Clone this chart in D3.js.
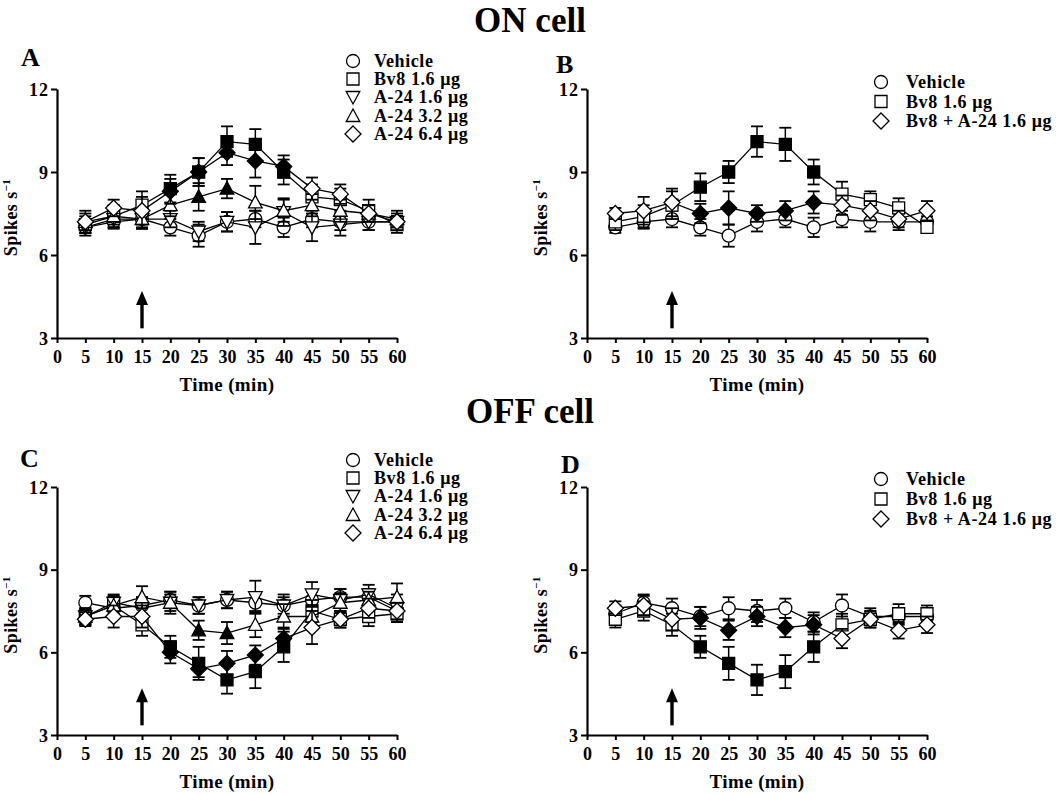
<!DOCTYPE html>
<html><head><meta charset="utf-8">
<script src="https://cdn.jsdelivr.net/npm/d3@7"></script>
<style>
body{margin:0;background:#fff}
svg{display:block}
text{font-family:"Liberation Serif","Times New Roman",serif;font-weight:bold;fill:#000}
</style>
</head><body><svg id="c" width="1063" height="794"></svg>
<script>
// ---------- shared axes / annotation data ----------
const times = [5,10,15,20,25,30,35,40,45,50,55,60];
const xTickValues = [0,5,10,15,20,25,30,35,40,45,50,55,60];
const yTickValues = [3,6,9,12];
const yDomain = [3,12];
const xDomain = [0,60];
const injectionTime = 15;
const arrowRange = [3.35, 4.7];
const titles = ["ON cell","OFF cell"];
const letters = ["A","B","C","D"];
const xLabel = "Time (min)";
const yLabel = "Spikes s";
const yLabelSup = "\u22121";
const legendFour = ["Vehicle","Bv8 1.6 \u03bcg","A-24 1.6 \u03bcg","A-24 3.2 \u03bcg","A-24 6.4 \u03bcg"];
const legendTwo = ["Vehicle","Bv8 1.6 \u03bcg","Bv8 + A-24 1.6 \u03bcg"];

// ---------- Panel A (ON cell, A-24 doses) ----------
const aVehicle    = [7.0,7.2,7.3,7.0,6.7,7.2,7.3,7.0,7.3,7.2,7.2,7.2];
const aVehicleSem = [0.2,0.25,0.3,0.3,0.4,0.35,0.3,0.35,0.3,0.3,0.3,0.2];
const aBv8        = [7.1,7.4,7.8,8.4,9.0,10.1,10.0,9.0,8.1,8.0,7.6,7.1];
const aBv8Sem     = [0.3,0.4,0.5,0.5,0.5,0.55,0.55,0.45,0.45,0.4,0.4,0.3];
const aBv8Filled  = [20,25,30,35,40];
const aA16        = [7.0,7.3,7.3,7.3,6.85,7.2,7.0,7.55,7.0,7.1,7.2,7.2];
const aA16Sem     = [0.3,0.3,0.35,0.3,0.35,0.35,0.6,0.5,0.5,0.4,0.3,0.3];
const aA32        = [7.2,7.4,7.3,7.8,8.1,8.4,7.9,7.6,7.8,7.6,7.5,7.3];
const aA32Sem     = [0.3,0.3,0.35,0.4,0.5,0.35,0.6,0.4,0.4,0.4,0.3,0.3];
const aA32Filled  = [25,30];
const aA64        = [7.2,7.7,7.6,8.3,9.0,9.7,9.4,9.2,8.4,8.2,7.5,7.2];
const aA64Sem     = [0.4,0.3,0.5,0.45,0.5,0.45,0.6,0.4,0.4,0.35,0.3,0.2];
const aA64Filled  = [20,25,30,35,40];

// ---------- Panel B (ON cell, combination) ----------
const bVehicle    = [7.0,7.2,7.3,7.0,6.7,7.2,7.3,7.0,7.3,7.2,7.2,7.2];
const bVehicleSem = [0.2,0.25,0.3,0.3,0.4,0.35,0.3,0.35,0.3,0.35,0.3,0.2];
const bBv8        = [7.2,7.4,7.8,8.45,9.0,10.1,10.0,9.0,8.2,8.0,7.7,7.0];
const bBv8Sem     = [0.3,0.4,0.5,0.5,0.4,0.55,0.6,0.45,0.45,0.3,0.35,0.2];
const bBv8Filled  = [20,25,30,35,40];
const bCombo      = [7.5,7.6,7.9,7.5,7.7,7.5,7.6,7.9,7.8,7.6,7.3,7.6];
const bComboSem   = [0.2,0.5,0.5,0.35,0.6,0.3,0.35,0.4,0.35,0.35,0.3,0.35];
const bComboFilled= [20,25,30,35,40];

// ---------- Panel C (OFF cell, A-24 doses) ----------
const cVehicle    = [7.8,7.6,7.7,7.9,7.7,7.9,7.8,7.7,7.9,8.0,8.0,7.5];
const cVehicleSem = [0.25,0.3,0.3,0.3,0.3,0.3,0.3,0.3,0.3,0.3,0.3,0.3];
const cBv8        = [7.3,7.7,7.0,6.2,5.6,5.0,5.3,6.2,7.5,7.2,7.3,7.4];
const cBv8Sem     = [0.25,0.35,0.4,0.4,0.6,0.5,0.6,0.55,0.4,0.3,0.35,0.3];
const cBv8Filled  = [20,25,30,35,40];
const cA16        = [7.3,7.8,7.6,7.8,7.7,7.9,8.0,7.7,8.1,7.9,8.1,7.6];
const cA16Sem     = [0.3,0.3,0.4,0.3,0.3,0.3,0.6,0.4,0.45,0.4,0.35,0.5];
const cA32        = [7.3,7.7,8.0,7.8,6.8,6.7,7.0,7.3,7.3,7.8,7.9,8.0];
const cA32Sem     = [0.3,0.3,0.4,0.4,0.35,0.4,0.45,0.45,0.4,0.35,0.3,0.5];
const cA32Filled  = [25,30];
const cA64        = [7.2,7.3,7.3,6.0,5.4,5.6,5.9,6.5,6.9,7.2,7.6,7.5];
const cA64Sem     = [0.25,0.4,0.4,0.4,0.3,0.45,0.35,0.4,0.6,0.3,0.35,0.3];
const cA64Filled  = [20,25,30,35,40];

// ---------- Panel D (OFF cell, combination) ----------
const dVehicle    = [7.4,7.8,7.6,7.3,7.6,7.5,7.6,7.1,7.7,7.3,7.3,7.3];
const dVehicleSem = [0.3,0.3,0.35,0.35,0.4,0.4,0.35,0.35,0.4,0.3,0.3,0.3];
const dBv8        = [7.2,7.5,7.0,6.2,5.6,5.0,5.3,6.2,7.0,7.2,7.4,7.4];
const dBv8Sem     = [0.3,0.35,0.4,0.4,0.6,0.55,0.6,0.55,0.4,0.3,0.35,0.3];
const dBv8Filled  = [20,25,30,35,40];
const dCombo      = [7.6,7.7,7.2,7.25,6.8,7.3,6.9,7.0,6.5,7.2,6.8,7.0];
const dComboSem   = [0.25,0.35,0.4,0.4,0.35,0.35,0.35,0.35,0.35,0.3,0.3,0.3];
const dComboFilled= [20,25,30,35,40];

// ---------- symbols ----------
function symPath(type){
  switch(type){
    case "circle": { const r=6.5; return `M${-r},0A${r},${r} 0 1,0 ${r},0A${r},${r} 0 1,0 ${-r},0Z`; }
    case "square": { const h=6; return `M${-h},${-h}H${h}V${h}H${-h}Z`; }
    case "diamond": { const h=8; return `M0,${-h}L${h},0L0,${h}L${-h},0Z`; }
    case "triUp": { const w=6.8, t=-7, b=5.5; return `M0,${t}L${w},${b}L${-w},${b}Z`; }
    case "triDown": { const w=6.8, t=7, b=-5.5; return `M0,${t}L${w},${b}L${-w},${b}Z`; }
  }
}

const svg = d3.select("#c");

function drawPanel(cfg){
  const x = d3.scaleLinear().domain(xDomain).range([cfg.left, cfg.right]);
  const y = d3.scaleLinear().domain(yDomain).range([cfg.bottom, cfg.top]);
  const g = svg.append("g");

  // series
  cfg.series.forEach(s=>{
    const pts = times.map((t,i)=>({t, v:s.values[i], e:s.sem[i], filled:(s.filled||[]).includes(t)}));
    const sg = g.append("g");
    sg.append("path").datum(pts)
      .attr("d", d3.line().x(d=>x(d.t)).y(d=>y(d.v)))
      .attr("fill","none").attr("stroke","#000").attr("stroke-width",1.3);
    const eb = sg.selectAll(".eb").data(pts).enter().append("g");
    eb.append("line").attr("x1",d=>x(d.t)).attr("x2",d=>x(d.t))
      .attr("y1",d=>y(d.v+d.e)).attr("y2",d=>y(d.v-d.e))
      .attr("stroke","#000").attr("stroke-width",1.5);
    [1,-1].forEach(sign=>{
      eb.append("line").attr("x1",d=>x(d.t)-6).attr("x2",d=>x(d.t)+6)
        .attr("y1",d=>y(d.v+sign*d.e)).attr("y2",d=>y(d.v+sign*d.e))
        .attr("stroke","#000").attr("stroke-width",1.8);
    });
    sg.selectAll(".mk").data(pts).enter().append("path")
      .attr("transform",d=>`translate(${x(d.t)},${y(d.v)})`)
      .attr("d",symPath(s.symbol))
      .attr("fill",d=>d.filled?"#000":"#fff")
      .attr("stroke","#000").attr("stroke-width",1.3);
  });

  // axes
  const ya = d3.axisLeft(y).tickValues(yTickValues).tickSize(6).tickSizeOuter(0).tickPadding(2);
  const yg = g.append("g").attr("transform",`translate(${cfg.left},0)`).call(ya);
  const xa = d3.axisBottom(x).tickValues(xTickValues).tickSize(5).tickSizeOuter(0).tickPadding(7);
  const xg = g.append("g").attr("transform",`translate(0,${cfg.bottom})`).call(xa);
  [yg,xg].forEach(a=>{
    a.select(".domain").attr("stroke","#000").attr("stroke-width",2.2);
    a.selectAll(".tick line").attr("stroke","#000").attr("stroke-width",2);
    a.selectAll(".tick text").style("font-family",'"Liberation Serif","Times New Roman",serif')
      .style("font-weight","bold").attr("font-size",18).attr("fill","#000");
  });
  yg.selectAll(".tick text").attr("dy","0.34em").attr("letter-spacing",1);

  // axis titles
  g.append("text").attr("x",(cfg.left+cfg.right)/2).attr("y",cfg.bottom+53)
    .attr("text-anchor","middle").attr("font-size",19).attr("letter-spacing",0.4).text(xLabel);
  const yt = g.append("text")
    .attr("transform",`translate(${cfg.left-40},${(cfg.top+cfg.bottom)/2+4}) rotate(-90)`)
    .attr("text-anchor","middle").attr("font-size",18).attr("letter-spacing",0.4);
  yt.append("tspan").text(yLabel);
  yt.append("tspan").attr("font-size",11).attr("dy",-7).text(yLabelSup);

  // arrow
  const ax = x(injectionTime), ay0 = y(arrowRange[0]), ay1 = y(arrowRange[1]);
  g.append("line").attr("x1",ax).attr("x2",ax).attr("y1",ay0).attr("y2",ay1+10)
    .attr("stroke","#000").attr("stroke-width",3.4);
  g.append("path").attr("d",`M${ax},${ay1}L${ax+6},${ay1+14}L${ax-6},${ay1+14}Z`).attr("fill","#000");

  // panel letter
  g.append("text").attr("x",cfg.letterX).attr("y",cfg.letterY).attr("font-size",26).text(cfg.letter);

  // legend
  cfg.series.forEach((s,i)=>{
    const ly = cfg.legendY[i];
    g.append("path").attr("transform",`translate(${cfg.legendX},${ly})`).attr("d",symPath(s.symbol))
      .attr("fill","#fff").attr("stroke","#000").attr("stroke-width",1.3);
    g.append("text").attr("x",cfg.legendTextX).attr("y",ly).attr("dy","0.35em")
      .attr("font-size",18).attr("letter-spacing",0.6).text(s.label);
  });
}

const fourSym = ["circle","square","triDown","triUp","diamond"];
const twoSym = ["circle","square","diamond"];

drawPanel({left:57,right:397,top:89,bottom:338,letter:letters[0],letterX:21,letterY:66,
  legendX:353,legendTextX:374,legendY:[61,79,97,116,134],
  series:[
    {values:aVehicle,sem:aVehicleSem,symbol:fourSym[0],label:legendFour[0]},
    {values:aBv8,sem:aBv8Sem,filled:aBv8Filled,symbol:fourSym[1],label:legendFour[1]},
    {values:aA16,sem:aA16Sem,symbol:fourSym[2],label:legendFour[2]},
    {values:aA32,sem:aA32Sem,filled:aA32Filled,symbol:fourSym[3],label:legendFour[3]},
    {values:aA64,sem:aA64Sem,filled:aA64Filled,symbol:fourSym[4],label:legendFour[4]}
  ]});
drawPanel({left:587,right:927,top:89,bottom:338,letter:letters[1],letterX:556,letterY:73,
  legendX:881,legendTextX:906,legendY:[82,101.5,121],
  series:[
    {values:bVehicle,sem:bVehicleSem,symbol:twoSym[0],label:legendTwo[0]},
    {values:bBv8,sem:bBv8Sem,filled:bBv8Filled,symbol:twoSym[1],label:legendTwo[1]},
    {values:bCombo,sem:bComboSem,filled:bComboFilled,symbol:twoSym[2],label:legendTwo[2]}
  ]});
drawPanel({left:57,right:397,top:487,bottom:735,letter:letters[2],letterX:20,letterY:467,
  legendX:353,legendTextX:374,legendY:[460,478,496,515,533],
  series:[
    {values:cVehicle,sem:cVehicleSem,symbol:fourSym[0],label:legendFour[0]},
    {values:cBv8,sem:cBv8Sem,filled:cBv8Filled,symbol:fourSym[1],label:legendFour[1]},
    {values:cA16,sem:cA16Sem,symbol:fourSym[2],label:legendFour[2]},
    {values:cA32,sem:cA32Sem,filled:cA32Filled,symbol:fourSym[3],label:legendFour[3]},
    {values:cA64,sem:cA64Sem,filled:cA64Filled,symbol:fourSym[4],label:legendFour[4]}
  ]});
drawPanel({left:587,right:927,top:487,bottom:735,letter:letters[3],letterX:561,letterY:473,
  legendX:881,legendTextX:906,legendY:[479,499,519],
  series:[
    {values:dVehicle,sem:dVehicleSem,symbol:twoSym[0],label:legendTwo[0]},
    {values:dBv8,sem:dBv8Sem,filled:dBv8Filled,symbol:twoSym[1],label:legendTwo[1]},
    {values:dCombo,sem:dComboSem,filled:dComboFilled,symbol:twoSym[2],label:legendTwo[2]}
  ]});

// section titles
svg.append("text").attr("x",530).attr("y",32).attr("text-anchor","middle").attr("font-size",35).text(titles[0]);
svg.append("text").attr("x",530).attr("y",423).attr("text-anchor","middle").attr("font-size",35).text(titles[1]);
</script>
</body></html>
